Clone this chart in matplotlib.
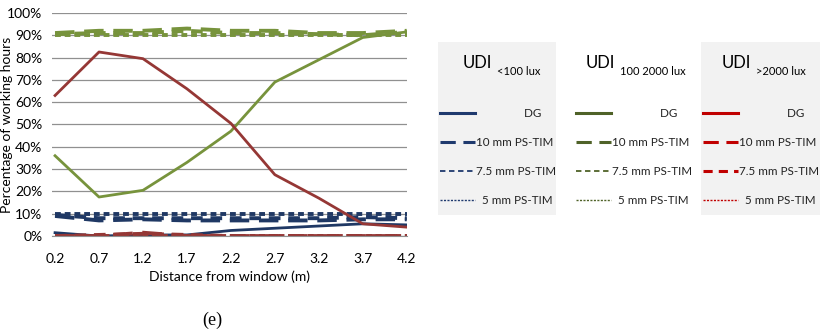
import matplotlib
matplotlib.use("Agg")
import matplotlib.pyplot as plt
from matplotlib.lines import Line2D
from matplotlib.patches import Rectangle
from matplotlib.ticker import PercentFormatter

plt.rcParams['font.family'] = ['Lato', 'DejaVu Sans']

# distance from window (m)
distance = [0.2, 0.7, 1.2, 1.7, 2.2, 2.7, 3.2, 3.7, 4.2]

# UDI <100 lux
low_dg = [1.5, 0, 0.5, 0.5, 2.5, 3.5, 4.5, 5.5, 5]
low_10 = [9, 7, 7.5, 7, 7, 7, 7, 7.5, 7.5]
low_75 = [9.5, 8, 8, 8, 8, 8, 8, 8.5, 8]
low_5 = [10, 10, 10, 10, 10, 10, 10, 10, 10]

# UDI 100-2000 lux
mid_dg = [36, 17.5, 20.5, 33, 47, 69, 79, 89, 91.5]
mid_10 = [91, 92, 92, 93, 92, 92, 91, 91, 92]
mid_75 = [90.5, 91, 91, 92, 91, 91, 90.5, 90, 91.5]
mid_5 = [90, 90, 90, 90, 90, 90, 90, 90, 90]

# UDI >2000 lux
high_dg = [63, 82.5, 79.5, 66, 50.5, 27.5, 17, 5.5, 4]
high_10 = [0, 0, 1.5, 0, 0, 0, 0, 0, 0]
high_75 = [0, 0.5, 1, 0.5, 0, 0, 0, 0, 0]
high_5 = [0, 0, 0, 0, 0, 0, 0, 0, 0]

labels = ["DG", "10 mm PS-TIM", "7.5 mm PS-TIM", "5 mm PS-TIM"]
subs = ["<100 lux", "100 2000 lux", ">2000 lux"]
styles = ['-', (0, (5, 2.5)), (0, (3, 2)), (0, (1.5, 1))]

fig = plt.figure(figsize=(8.25, 3.32), dpi=100)
ax = fig.add_axes([0.063, 0.289, 0.430, 0.672])

groups = [
    ([low_dg, low_10, low_75, low_5], '#1F3864'),
    ([mid_dg, mid_10, mid_75, mid_5], '#77933C'),
    ([high_dg, high_10, high_75, high_5], '#953735'),
]
for series, color in groups:
    for vals, ls, i in zip(series, styles, range(4)):
        lw = 2.0 if i == 0 else 2.8
        ax.plot(distance, vals, color=color, linestyle=ls, linewidth=lw)

ax.set_ylim(0, 100)
ax.set_xlim(0.165, 4.2)
ax.set_xticks(distance)
ax.set_xticklabels([str(d) for d in distance])
ax.set_yticks(range(0, 101, 10))
ax.yaxis.set_major_formatter(PercentFormatter(decimals=0))
ax.grid(axis='y', color='#909090', linewidth=0.9)
ax.set_axisbelow(True)
for s in ['top', 'right', 'left']:
    ax.spines[s].set_visible(False)
ax.spines['bottom'].set_color('#909090')
ax.tick_params(axis='y', length=0, labelsize=10, pad=7)
ax.tick_params(axis='x', length=0, labelsize=10, pad=12)
ax.set_xlabel("Distance from window (m)", fontsize=10, labelpad=4)
fig.text(0.009, 0.625, "Percentage of working hours", rotation=90,
         ha='center', va='center', fontsize=10)

fig.text(0.257, 0.035, "(e)", fontsize=13, ha='center', va='center',
         family='Liberation Serif')

# legend boxes
box_x = [0.531, 0.674, 0.850]
box_w = [0.143, 0.176, 0.144]
leg_x = [0.531, 0.696, 0.850]
title_x = [0.561, 0.710, 0.875]
box_bg = ['#F2F2F2', 'none', '#F2F2F2']
leg_colors = ['#1F3A6E', '#4F6228', '#C00000']
pad_labels = ["                DG", labels[1], labels[2], "  " + labels[3]]

for x0, w, lx, tx, bg, sub, col in zip(box_x, box_w, leg_x, title_x, box_bg, subs, leg_colors):
    fig.patches.append(Rectangle((x0, 0.352), w, 0.521, transform=fig.transFigure,
                                 facecolor=bg, edgecolor='none', zorder=0))
    t = fig.text(tx, 0.795, "UDI", ha='left', va='baseline', fontsize=12)
    fig.add_artist(plt.Annotation(sub, xy=(1, 0), xycoords=t, xytext=(3.5, -3),
                                  textcoords='offset points', ha='left',
                                  va='baseline', fontsize=8))
    handles = [Line2D([], [], color=col, linestyle=ls,
                      linewidth=[2.2, 2.2, 1.3, 1.0][i])
               for i, ls in enumerate(styles)]
    if col == '#C00000':
        handles[2].set_linewidth(2.2)
    leg = fig.legend(handles, pad_labels, loc='upper left',
                     bbox_to_anchor=(lx - 0.003, 0.69), frameon=False,
                     fontsize=8.4, handlelength=3.0, handletextpad=0.05,
                     labelspacing=1.55, borderaxespad=0)
    for t in leg.get_texts():
        t.set_color('#222222')

fig.savefig("out.png", dpi=100)
